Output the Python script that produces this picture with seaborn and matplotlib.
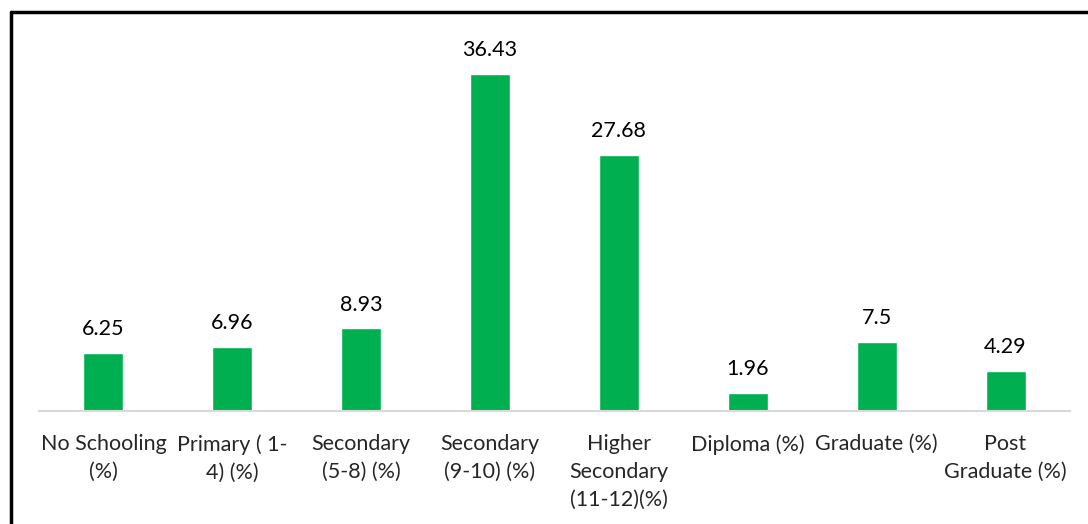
import matplotlib
matplotlib.use("Agg")
import matplotlib.pyplot as plt
import seaborn as sns
import pandas as pd
from matplotlib.lines import Line2D

# dados
categories = [
    "No Schooling\n(%)",
    "Primary ( 1-\n4) (%)",
    "Secondary\n(5-8) (%)",
    "Secondary\n(9-10) (%)",
    "Higher\nSecondary\n(11-12)(%)",
    "Diploma (%)",
    "Graduate (%)",
    "Post\nGraduate (%)",
]
values = [6.25, 6.96, 8.93, 36.43, 27.68, 1.96, 7.5, 4.29]
value_labels = ["6.25", "6.96", "8.93", "36.43", "27.68", "1.96", "7.5", "4.29"]

df = pd.DataFrame({"Category": categories, "Value": values})

sns.set_style("white")
plt.rcParams["font.family"] = ["Lato", "DejaVu Sans"]

fig = plt.figure(figsize=(10.88, 5.24), dpi=100)
ax = fig.add_axes([39 / 1088, 113 / 524, 1031 / 1088, 370 / 524])

sns.barplot(data=df, x="Category", y="Value", color="#00B050", width=0.31,
            saturation=1, ax=ax)

for i, (v, lab) in enumerate(zip(values, value_labels)):
    ax.annotate(lab, (i, v), xytext=(0, 10), textcoords="offset points",
                ha="center", va="bottom", fontsize=15.5, color="#000000")

ax.set_ylim(0, 40)
ax.set_xlim(-0.5, len(categories) - 0.5)
ax.set_yticks([])
ax.set_xlabel("")
ax.set_ylabel("")
for s in ["top", "right", "left"]:
    ax.spines[s].set_visible(False)
ax.spines["bottom"].set_color("#D9D9D9")
ax.spines["bottom"].set_linewidth(1.5)
ax.tick_params(axis="x", length=0, pad=16.5, labelsize=15.5)
for t in ax.get_xticklabels():
    t.set_linespacing(1.5)
    t.set_verticalalignment("top")

# moldura (só esquerda e topo aparecem no recorte)
fig.add_artist(Line2D([10.5 / 1088, 10.5 / 1088], [0, 1 - 11.5 / 524],
                      transform=fig.transFigure, color="black", lw=2.5))
fig.add_artist(Line2D([10.5 / 1088, 1], [1 - 11.5 / 524, 1 - 11.5 / 524],
                      transform=fig.transFigure, color="black", lw=2.5))

fig.savefig("out.png", dpi=100)
